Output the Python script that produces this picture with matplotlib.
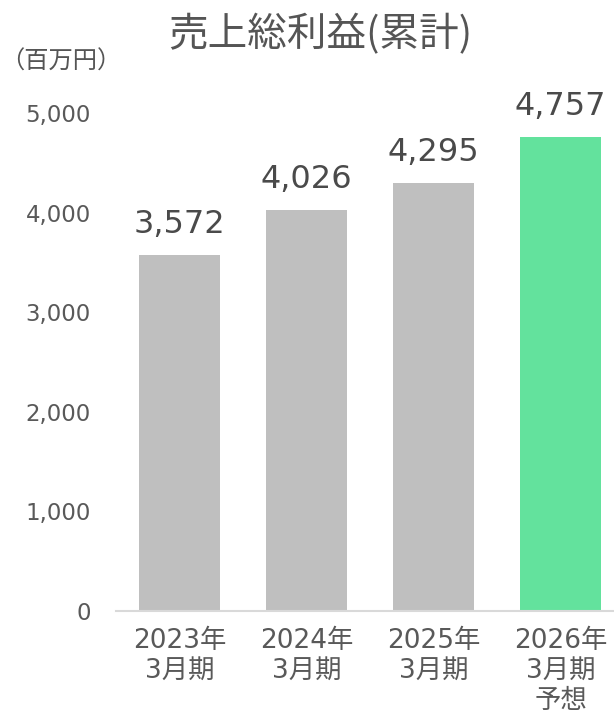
import matplotlib
matplotlib.use("Agg")
import matplotlib.pyplot as plt
from matplotlib.ticker import FuncFormatter

plt.rcParams['font.family'] = ['DejaVu Sans', 'Noto Sans CJK JP']

categories = ["2023年\n3月期", "2024年\n3月期", "2025年\n3月期", "2026年\n3月期\n予想"]
values = [3572, 4026, 4295, 4757]
bar_colors = ["#bfbfbf", "#bfbfbf", "#bfbfbf", "#63e29d"]
yticks = [0, 1000, 2000, 3000, 4000, 5000]
title = "売上総利益(累計)"
unit = "（百万円）"

W, H = 614, 713
fig = plt.figure(figsize=(W / 100, H / 100), dpi=100)
ax = fig.add_axes([116 / W, (H - 611) / H, (614 - 116) / W, 498 / H])

x = list(range(len(categories)))
ax.bar(x, values, width=0.64, color=bar_colors, zorder=2)
ax.set_xlim(-0.5, 3.42)
ax.set_ylim(0, 5000)

for xi, v in zip(x, values):
    ax.annotate(f"{v:,}", (xi, v), xytext=(0, 11), textcoords="offset points",
                ha="center", va="bottom", fontsize=23, color="#4a4a4a",
                annotation_clip=False)

ax.set_yticks(yticks)
ax.yaxis.set_major_formatter(FuncFormatter(lambda v, p: f"{int(v):,}"))
ax.set_xticks(x)
ax.set_xticklabels(categories, fontsize=19, color="#595959", linespacing=1.2)
ax.tick_params(axis="y", length=0, pad=18, labelsize=16.5, labelcolor="#595959")
ax.tick_params(axis="x", length=0, pad=12)

for s in ["top", "right", "left"]:
    ax.spines[s].set_visible(False)
ax.spines["bottom"].set_color("#d9d9d9")
ax.spines["bottom"].set_linewidth(1.5)

fig.text(320 / W, 1 - 35 / H, title, ha="center", va="center", fontsize=28.5,
         color="#555555", family=['Noto Sans CJK JP', 'DejaVu Sans'])
fig.text(0.5 / W, 1 - 62 / H, unit, ha="left", va="center", fontsize=17.5,
         color="#555555", family=['Noto Sans CJK JP', 'DejaVu Sans'])

fig.savefig("out.png", dpi=100)
